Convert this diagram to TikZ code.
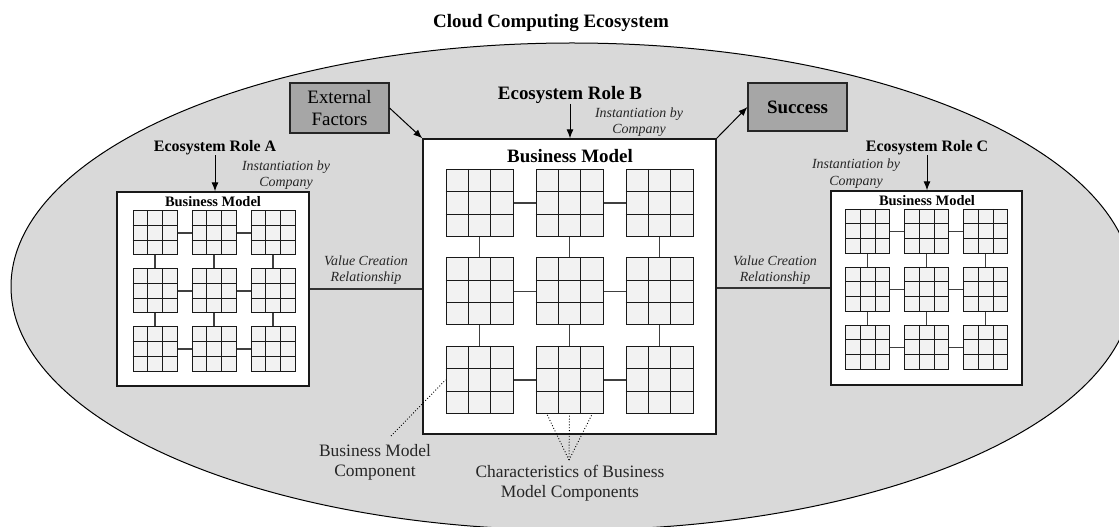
\documentclass[tikz,border=0pt]{standalone}
\usepackage{fontspec}
\setmainfont{Liberation Serif}
\usetikzlibrary{arrows.meta,calc}
\definecolor{ecofill}{HTML}{D9D9D9}
\definecolor{cellfill}{HTML}{F2F2F2}
\definecolor{darkbox}{HTML}{A6A6A6}
\definecolor{txtgray}{HTML}{262626}
\tikzset{
  eco/.style={draw=black, fill=ecofill, line width=1bp},
  bmbox/.style={draw=black!90, fill=white, line width=1.3bp, inner sep=0pt},
  comp/.style={draw=black!90, fill=cellfill, line width=1bp, inner sep=0pt},
  cellline/.style={draw=black!90, line width=1bp},
  conn/.style={draw=black!75, line width=1.1bp},
  factorbox/.style={draw=black!85, fill=darkbox, line width=1.1bp, inner sep=0pt, align=center},
  arr/.style={-{Latex[length=9bp,width=7bp]}, line width=1bp},
  dotline/.style={dotted, line width=0.9bp},
  bigbold/.style={font=\fontsize{19}{22}\selectfont\bfseries, inner sep=0pt},
  smallbold/.style={font=\fontsize{14.5}{17}\selectfont\bfseries, inner sep=0pt},
  roletxt/.style={font=\fontsize{16}{18}\selectfont\bfseries, inner sep=0pt},
  ittxt/.style={font=\fontsize{14}{16.5}\selectfont\itshape, text=txtgray, align=center, inner sep=0pt},
  anntxt/.style={font=\fontsize{17.5}{20}\selectfont, text=txtgray, align=center, inner sep=0pt},
}
\newcommand{\bizmodel}[6]{%
  \foreach \r in {0,1,2}{%
    \foreach \c in {0,1,2}{%
      \pgfmathsetmacro{\xx}{#2+\c*#5}%
      \pgfmathsetmacro{\yy}{#3+\r*#6}%
      \node[comp, minimum size=#4bp] (#1-\r-\c) at (\xx,\yy) {};
      \foreach \f in {1/3,2/3}{%
        \draw[cellline] ($(#1-\r-\c.north west)!\f!(#1-\r-\c.north east)$) -- ($(#1-\r-\c.south west)!\f!(#1-\r-\c.south east)$);
        \draw[cellline] ($(#1-\r-\c.north west)!\f!(#1-\r-\c.south west)$) -- ($(#1-\r-\c.north east)!\f!(#1-\r-\c.south east)$);
      }%
    }%
  }%
  \foreach \r in {0,1,2}{\foreach \c/\d in {0/1,1/2}{%
    \draw[conn] (#1-\r-\c.east) -- (#1-\r-\d.west);
    \draw[conn] (#1-\c-\r.south) -- (#1-\d-\r.north);
  }}%
}
\begin{document}
\begin{tikzpicture}[x=1bp,y=-1bp]
\clip (0,0) rectangle (1119,527);
\fill[white] (0,0) rectangle (1119,527);

\node[bigbold] (title) at (551,23) {Cloud Computing Ecosystem};
\draw[eco] (572,286.5) ellipse [x radius=561, y radius=243.5];

% business model boxes
\node[bmbox, minimum width=192bp, minimum height=194bp] (boxA) at (213,289) {};
\node[bmbox, minimum width=293bp, minimum height=295bp] (boxB) at (569.5,286.5) {};
\node[bmbox, minimum width=191bp, minimum height=194bp] (boxC) at (926.5,288) {};

% value creation relationships
\draw[conn, draw=black!80] (boxA.east) -- (boxA.east -| boxB.west);
\draw[conn, draw=black!80] (boxC.west) -- (boxC.west -| boxB.east);
\node[ittxt] (vcAB) at (366,270) {Value Creation\\Relationship};
\node[ittxt] (vcBC) at (775,270) {Value Creation\\Relationship};

% components
\bizmodel{A}{155}{233}{44}{59}{58}
\bizmodel{B}{479.5}{203}{67}{90}{88.5}
\bizmodel{C}{867.5}{231.5}{44}{59}{58}

% box titles
\node[smallbold] (bmA) at (213,202) {Business Model};
\node[bigbold] (bmB) at (570,156) {Business Model};
\node[smallbold] (bmC) at (927,201) {Business Model};

% roles
\node[roletxt] (roleA) at (215,148) {Ecosystem Role A};
\node[bigbold] (roleB) at (570,95) {Ecosystem Role B};
\node[roletxt] (roleC) at (927,148) {Ecosystem Role C};
\draw[arr] (roleA.south) -- (roleA.south |- boxA.north);
\draw[arr] (roleB.south) -- (roleB.south |- boxB.north);
\draw[arr] (roleC.south) -- (roleC.south |- boxC.north);
\node[ittxt] (instA) at (286,175) {Instantiation by\\Company};
\node[ittxt] (instB) at (639,122) {Instantiation by\\Company};
\node[ittxt] (instC) at (856,173.5) {Instantiation by\\Company};

% external factors and success
\node[factorbox, minimum width=99bp, minimum height=50bp, font=\fontsize{19}{22}\selectfont] (ext) at (339.5,108) {External\\Factors};
\node[factorbox, minimum width=99bp, minimum height=48bp, font=\fontsize{19}{22}\selectfont\bfseries] (succ) at (797.5,107) {Success};
\draw[arr] (ext.east) -- (boxB.north west);
\draw[arr] (boxB.north east) -- (succ.west);

% annotations
\node[anntxt] (bmc) at (375,462) {Business Model\\Component};
\coordinate (bmcTip) at (391,436);
\draw[dotline] (bmcTip) -- (B-2-0.west);
\node[anntxt] (chars) at (570,483) {Characteristics of Business\\Model Components};
\coordinate (charTip) at (569,460);
\draw[dotline] (charTip) -- ($(B-2-1.south west)!1/6!(B-2-1.south east)$);
\draw[dotline] (charTip) -- (B-2-1.south);
\draw[dotline] (charTip) -- ($(B-2-1.south west)!5/6!(B-2-1.south east)$);
\end{tikzpicture}
\end{document}
